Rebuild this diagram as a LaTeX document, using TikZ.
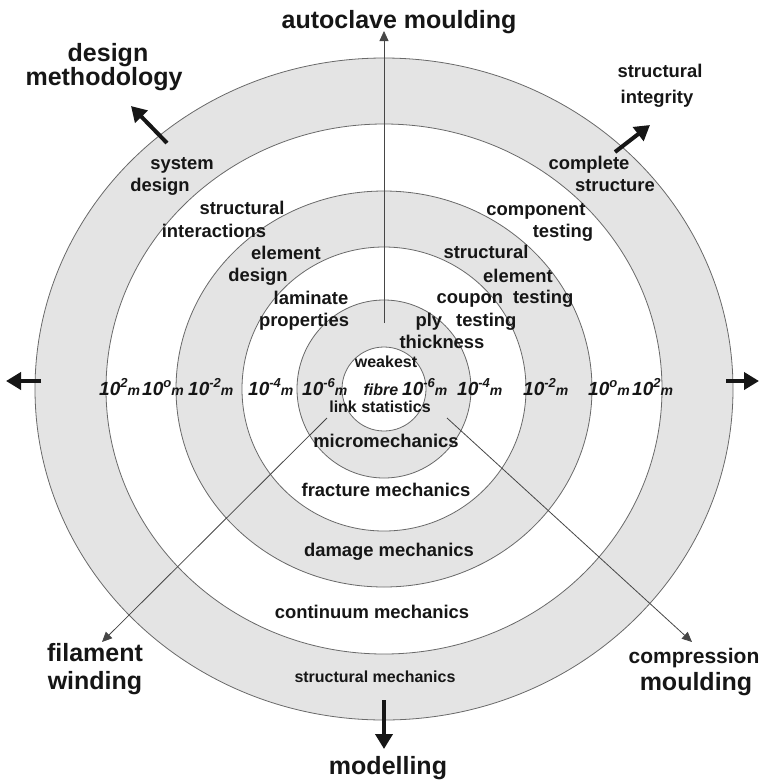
\documentclass[tikz,border=0pt]{standalone}
\usepackage{fontspec}
\setmainfont{Liberation Sans}
\usepackage{tikz}
\usetikzlibrary{arrows.meta,positioning,calc}

\definecolor{ringgray}{RGB}{228,228,228}
\definecolor{rimgray}{RGB}{105,105,105}
\definecolor{inkgray}{RGB}{70,70,70}
\definecolor{inkblack}{RGB}{22,22,22}
\newcommand{\tenpow}[1]{{\fontsize{19}{22}\selectfont 10}\raisebox{8pt}{\fontsize{13}{15}\selectfont #1}{\fontsize{14}{16}\selectfont m}}

\begin{document}
\begin{tikzpicture}[
    x=1pt, y=-1pt,
    rim/.style={draw=rimgray, line width=0.8pt},
    thinarr/.style={-{Triangle[length=10pt,width=9pt]}, line width=0.8pt, inkgray},
    fatarr/.style={-{Triangle[length=15pt,width=17pt]}, line width=4pt, inkblack},
    biglbl/.style={font=\fontsize{25}{30}\selectfont\bfseries, text=inkblack,
        inner sep=0pt, anchor=base},
    ringlbl/.style={font=\fontsize{18.4}{22}\selectfont\bfseries, text=inkblack,
        inner sep=0pt, anchor=base},
    smalllbl/.style={font=\fontsize{16}{19}\selectfont\bfseries, text=inkblack,
        inner sep=0pt, anchor=base},
    scalelbl/.style={font=\bfseries\itshape, text=inkblack,
        inner sep=0pt, anchor=base west}
]
    \useasboundingbox (0,0) rectangle (759,780);

    % Rings, outermost first
    \coordinate (c) at (384,389);
    \foreach \rx/\ry/\col in {349/331/ringgray, 278/265/white, 208/198/ringgray,
                              142/142/white, 87/89/ringgray, 42/42/white}
        \filldraw[rim, fill=\col] (c) ellipse [x radius=\rx, y radius=\ry];

    % Thin process arrows
    \coordinate (upfoot) at (384,323);
    \coordinate (uptip) at (384,31);
    \coordinate (swfoot) at (327,418);
    \coordinate (swtip) at (102,642);
    \coordinate (sefoot) at (447,418);
    \coordinate (setip) at (692,642);
    \draw[thinarr] (upfoot) -- (uptip);
    \draw[thinarr] (swfoot) -- (swtip);
    \draw[thinarr] (sefoot) -- (setip);

    % Fat arrows
    \coordinate (nwfoot) at (167,143);
    \coordinate (nwtip) at (131,106);
    \coordinate (nefoot) at (615,152);
    \coordinate (netip) at (650,125);
    \coordinate (wfoot) at (41,381);
    \coordinate (wtip) at (6,381);
    \coordinate (efoot) at (726,381);
    \coordinate (etip) at (759,381);
    \coordinate (sfoot) at (384,700);
    \coordinate (stip) at (384,749);
    \draw[fatarr] (nwfoot) -- (nwtip);
    \draw[fatarr] (nefoot) -- (netip);
    \draw[fatarr] (wfoot) -- (wtip);
    \draw[fatarr] (efoot) -- (etip);
    \draw[fatarr] (sfoot) -- (stip);

    % Outer labels
    \node[biglbl] (autoclave) at (399,28) {autoclave moulding};
    \node[biglbl] (design) at (108,61) {design};
    \node[biglbl] (method) at ($(design.base)+(-4,24)$) {methodology};
    \node[ringlbl] (integ1) at (660,77) {structural};
    \node[ringlbl] (integ2) at ($(integ1.base)+(-3,26)$) {integrity};
    \node[biglbl] (filament) at (95,661) {filament};
    \node[biglbl] (winding) at ($(filament.base)+(0,28)$) {winding};
    \node[biglbl, font=\fontsize{21}{25}\selectfont\bfseries] (compress) at (694,663) {compression};
    \node[biglbl] (cmould) at ($(compress.base)+(2,27)$) {moulding};
    \node[biglbl] (modelling) at (388,774) {modelling};

    % Labels, upper left quadrant
    \node[ringlbl] (sys1) at (182,169) {system};
    \node[ringlbl] (sys2) at (160,191) {design};
    \node[ringlbl] (inter1) at (242,214) {structural};
    \node[ringlbl] (inter2) at (214,237) {interactions};
    \node[ringlbl] (elem1) at (286,259) {element};
    \node[ringlbl] (elem2) at (258,281) {design};
    \node[ringlbl] (lam1) at (311,304) {laminate};
    \node[ringlbl] (lam2) at (304,326) {properties};

    % Labels, upper right quadrant
    \node[ringlbl] (compl1) at (589,169) {complete};
    \node[ringlbl] (compl2) at (615,191) {structure};
    \node[ringlbl] (compo1) at (536,215) {component};
    \node[ringlbl] (compo2) at (563,237) {testing};
    \node[ringlbl] (selem1) at (486,258) {structural};
    \node[ringlbl] (selem2) at (518,282) {element};
    \node[ringlbl] (coupon) at (505,303) {coupon\hspace{10pt}testing};
    \node[ringlbl] (ply) at (466,326) {ply\hspace{14pt}testing};
    \node[ringlbl] (thick) at (442,348) {thickness};

    % Core
    \node[smalllbl] (weak) at (386,367) {weakest};
    \node[smalllbl, font=\fontsize{16}{19}\selectfont\bfseries\itshape] (fibre) at (381,395) {fibre};
    \node[smalllbl] (link) at (380,412) {link statistics};

    % Lower half
    \node[ringlbl] (micro) at (386,447) {micromechanics};
    \node[ringlbl] (fract) at (386,496) {fracture mechanics};
    \node[ringlbl] (damage) at (389,556) {damage mechanics};
    \node[ringlbl] (contin) at (372,618) {continuum mechanics};
    \node[smalllbl] (struct) at (375,682) {structural mechanics};

    % Length scales along the horizontal
    \foreach \px/\ex [count=\i] in {99/2, 142/o, 188/-2, 248/-4, 302/-6,
                                    402/-6, 457/-4, 523/-2, 588/o, 632/2}
        \node[scalelbl] (scale\i) at (\px,395) {\tenpow{\ex}};

\end{tikzpicture}
\end{document}
